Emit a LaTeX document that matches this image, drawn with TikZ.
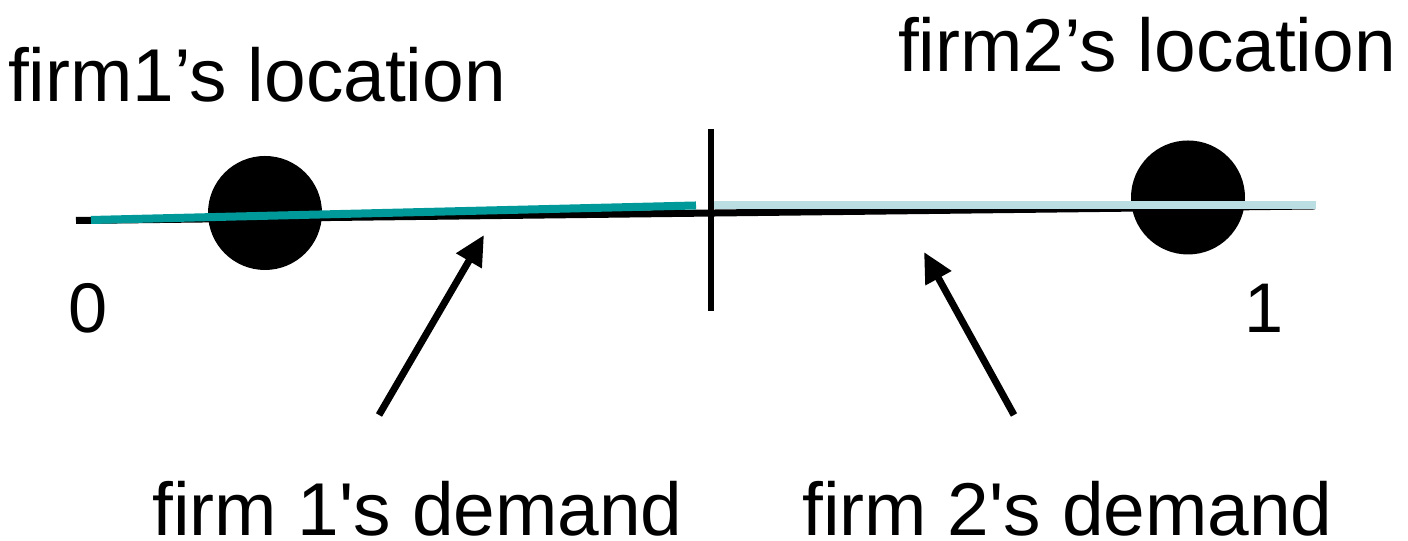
\documentclass[tikz,border=0pt]{standalone}
\usepackage{fontspec}
\setmainfont{Liberation Sans}
\usetikzlibrary{arrows.meta}

\definecolor{demandone}{RGB}{0,153,153}
\definecolor{demandtwo}{RGB}{187,222,226}

\tikzset{
  firm/.style = {circle, fill = black, inner sep = 0, minimum size = 1.14cm},
  txt/.style = {inner sep = 0, anchor = base, font = \fontsize{21.3}{25}\selectfont},
  endtxt/.style = {inner sep = 0, anchor = base, font = \fontsize{20}{24}\selectfont},
  pointer/.style = {line width = 0.07cm, -{Triangle[length = 0.3cm, width = 0.28cm]}}
}

\begin{document}
\begin{tikzpicture}

\useasboundingbox ( 0, 0 ) rectangle ( 14.08, 5.41 );

% Line from 0 to 1
\draw [line width = 0.07cm] ( 0.76, 3.205 ) -- ( 13.15, 3.35 );

% Firms
\node (firmone) [firm] at ( 2.65, 3.28 ) {};
\node (firmtwo) [firm] at ( 11.88, 3.435 ) {};

% Demand
\draw [demandone, line width = 0.08cm] ( 0.91, 3.21 ) -- ( 6.96, 3.355 );
\draw [demandtwo, line width = 0.08cm] ( 7.11, 3.36 ) -- ( 13.16, 3.36 );

% Split
\draw [line width = 0.06cm] ( 7.11, 4.12 ) -- ( 7.11, 2.30 );

% Ends
\node (zero) [endtxt] at ( 0.88, 2.08 ) {0};
\node (one) [endtxt] at ( 12.64, 2.08 ) {1};

% Labels
\node (locone) [txt] at ( 2.57, 4.39 ) {firm1’s location};
\node (loctwo) [txt] at ( 11.47, 4.69 ) {firm2’s location};
\node (demone) [txt] at ( 4.175, 0.05 ) {firm 1\textquotesingle s demand};
\node (demtwo) [txt] at ( 10.675, 0.05 ) {firm 2\textquotesingle s demand};

% Arrows
\coordinate (tailone) at ( 3.79, 1.26 );
\coordinate (tipone) at ( 4.84, 3.06 );
\coordinate (tailtwo) at ( 10.14, 1.26 );
\coordinate (tiptwo) at ( 9.24, 2.89 );
\draw [pointer] (tailone) -- (tipone);
\draw [pointer] (tailtwo) -- (tiptwo);

\end{tikzpicture}
\end{document}
